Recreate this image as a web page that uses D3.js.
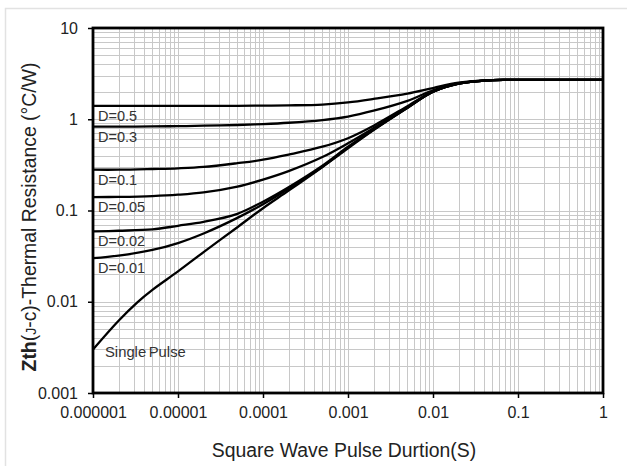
<!DOCTYPE html>
<html><head><meta charset="utf-8">
<script src="https://cdn.jsdelivr.net/npm/d3@7"></script>
<style>body{margin:0;background:#fff}svg{display:block}</style>
</head><body>
<svg id="c" width="627" height="466"></svg>
<script>
// ---- data ----
const pulseTimes = [1e-6, 2e-6, 5e-6, 1e-5, 2e-5, 5e-5, 1e-4, 2e-4, 5e-4, 1e-3, 2e-3, 5e-3, 1e-2, 2e-2, 5e-2, 1e-1, 1];
const zD05  = [1.40, 1.40, 1.40, 1.40, 1.40, 1.405, 1.41, 1.42, 1.45, 1.53, 1.67, 1.91, 2.20, 2.52, 2.69, 2.70, 2.70];
const zD03  = [0.83, 0.83, 0.835, 0.84, 0.85, 0.865, 0.885, 0.915, 0.98, 1.07, 1.24, 1.59, 2.08, 2.49, 2.69, 2.70, 2.70];
const zD01  = [0.28, 0.28, 0.285, 0.29, 0.30, 0.33, 0.36, 0.41, 0.50, 0.62, 0.85, 1.39, 2.03, 2.47, 2.69, 2.70, 2.70];
const zD005 = [0.14, 0.141, 0.144, 0.149, 0.158, 0.183, 0.218, 0.27, 0.385, 0.545, 0.80, 1.36, 2.01, 2.46, 2.69, 2.70, 2.70];
const zD002 = [0.059, 0.06, 0.062, 0.068, 0.075, 0.092, 0.125, 0.18, 0.31, 0.50, 0.775, 1.34, 2.00, 2.46, 2.69, 2.70, 2.70];
const zD001 = [0.030, 0.032, 0.037, 0.044, 0.056, 0.083, 0.117, 0.173, 0.302, 0.49, 0.765, 1.335, 2.00, 2.46, 2.69, 2.70, 2.70];
const singleTimes = [1e-6, 2e-6, 3.3e-6, 5e-6, 1e-5, 2e-5, 5e-5, 1e-4, 2e-4, 5e-4, 1e-3, 2e-3, 5e-3, 1e-2, 2e-2, 5e-2, 1e-1, 1];
const zSingle = [0.003, 0.0062, 0.0098, 0.0135, 0.0215, 0.035, 0.0656, 0.106, 0.165, 0.30, 0.48, 0.76, 1.33, 2.00, 2.46, 2.69, 2.70, 2.70];
const seriesNames = ["D=0.5", "D=0.3", "D=0.1", "D=0.05", "D=0.02", "D=0.01"];
const xTickValues = [1e-6, 1e-5, 1e-4, 1e-3, 1e-2, 1e-1, 1];
const xTickLabels = ["0.000001", "0.00001", "0.0001", "0.001", "0.01", "0.1", "1"];
const yTickValues = [0.001, 0.01, 0.1, 1, 10];
const yTickLabels = ["0.001", "0.01", "0.1", "1", "10"];
const xTitle = "Square Wave Pulse Durtion(S)";

// ---- layout ----
const L = 93, R = 603, T = 28, B = 393;
const FONT = "'Liberation Sans', Arial, sans-serif";
const svg = d3.select("#c");
const x = d3.scaleLog().domain([1e-6, 1]).range([L, R]);
const y = d3.scaleLog().domain([0.001, 10]).range([B, T]);

// outer light border
svg.append("rect").attr("x", 5.5).attr("y", 8.5).attr("width", 640).attr("height", 480)
  .attr("fill", "none").attr("stroke", "#e2e2e2").attr("stroke-width", 1.5);

// grid
const grid = svg.append("g").attr("stroke", "#c8c8c8").attr("stroke-width", 1);
const xGrid = [], yGrid = [];
for (let e = -6; e < 0; e++) for (let m = 1; m <= 9; m++) xGrid.push(m * Math.pow(10, e));
for (let e = -3; e < 1; e++) for (let m = 1; m <= 9; m++) yGrid.push(m * Math.pow(10, e));
grid.selectAll("line.gx").data(xGrid).join("line")
  .attr("x1", d => Math.round(x(d)) + 0.5).attr("x2", d => Math.round(x(d)) + 0.5)
  .attr("y1", T).attr("y2", B);
grid.selectAll("line.gy").data(yGrid).join("line")
  .attr("y1", d => Math.round(y(d)) + 0.5).attr("y2", d => Math.round(y(d)) + 0.5)
  .attr("x1", L).attr("x2", R);

// axes
const xAxis = d3.axisBottom(x).tickValues(xTickValues)
  .tickFormat((d, i) => xTickLabels[i]).tickSize(5).tickPadding(9);
const gx = svg.append("g").attr("transform", `translate(0,${B})`).call(xAxis);
const yAxis = d3.axisLeft(y).tickValues(yTickValues)
  .tickFormat((d, i) => yTickLabels[i]).tickSize(5).tickPadding(10);
const gy = svg.append("g").attr("transform", `translate(${L},0)`).call(yAxis);
[gx, gy].forEach(g => {
  g.select(".domain").remove();
  g.selectAll(".tick line").attr("stroke", "#000").attr("stroke-width", 1.5);
  g.selectAll(".tick text").attr("font-family", FONT).attr("font-size", 16).attr("fill", "#222");
});

// curves
svg.append("clipPath").attr("id", "plot").append("rect")
  .attr("x", L).attr("y", T).attr("width", R - L).attr("height", B - T);
const line = d3.line().x(d => x(d[0])).y(d => y(d[1])).curve(d3.curveCatmullRom.alpha(0.5));
const allSeries = [zD05, zD03, zD01, zD005, zD002, zD001].map(vals => pulseTimes.map((t, i) => [t, vals[i]]));
allSeries.push(singleTimes.map((t, i) => [t, zSingle[i]]));
svg.append("g").attr("clip-path", "url(#plot)").selectAll("path").data(allSeries).join("path")
  .attr("d", line).attr("fill", "none").attr("stroke", "#000").attr("stroke-width", 2.3)
  .attr("stroke-linejoin", "round");

// curve labels (placed just below each curve's left end)
const lab = svg.append("g").attr("font-family", FONT).attr("fill", "#333");
lab.selectAll("text.d").data(seriesNames).join("text")
  .attr("x", L + 5)
  .attr("y", (d, i) => y(allSeries[i][0][1]) + 15)
  .attr("font-size", 14.5).text(d => d);
lab.append("text").attr("x", L + 12).attr("y", y(zSingle[0]) + 8)
  .attr("font-size", 14.8).attr("word-spacing", -1.5).text("Single Pulse");

// frame
svg.append("rect").attr("x", L).attr("y", T).attr("width", R - L).attr("height", B - T)
  .attr("fill", "none").attr("stroke", "#000").attr("stroke-width", 2.8);

// titles
svg.append("text").attr("x", (L + R) / 2 - 4).attr("y", 457)
  .attr("text-anchor", "middle").attr("font-family", FONT).attr("font-size", 19.4)
  .attr("fill", "#222").text(xTitle);
const yt = svg.append("text").attr("transform", "translate(35.5,217) rotate(-90)")
  .attr("text-anchor", "middle").attr("font-family", FONT).attr("font-size", 19.4).attr("fill", "#222");
yt.append("tspan").attr("font-weight", "bold").text("Zth");
yt.append("tspan").text("(");
yt.append("tspan").attr("font-size", 14).text("J");
yt.append("tspan").text("-c)-Thermal Resistance (°C/W)");
</script>
</body></html>
